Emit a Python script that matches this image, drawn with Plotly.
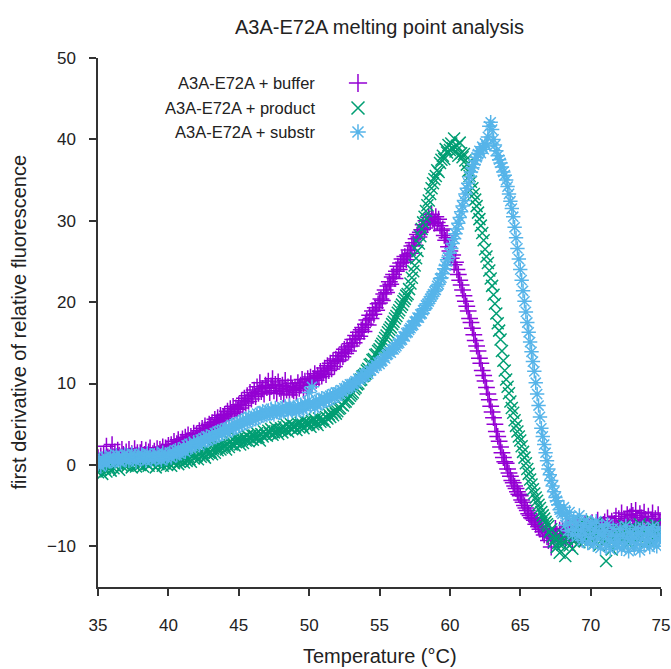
import numpy as np
import plotly.graph_objects as go

# Temperature axis: 35.0 .. 75.0 in 0.1 steps
temperature = np.round(np.arange(350, 751) / 10.0, 1)

series_names = ["A3A-E72A + buffer", "A3A-E72A + product", "A3A-E72A + substr"]
series_colors = ["#9400d3", "#009e73", "#56b4e9"]
series_symbols = ["cross-thin-open", "x-thin-open", "asterisk-open"]

buffer_vals = [
    0.9, 0.2, 1.1, 0.5, 1.4, 0.6, 2.3, 1.0, 0.8, 1.5,
    2.5, 1.0, 1.6, 0.9, 1.8, 1.2, 0.7, 1.9, 1.3, 1.0,
    1.6, 0.8, 1.9, 1.1, 1.4, 0.9, 2.0, 1.2, 1.5, 0.7,
    1.5, 1.9, 0.9, 1.3, 1.8, 1.1, 1.6, 2.1, 1.0, 1.4,
    1.7, 1.2, 2.0, 1.4, 1.9, 1.6, 2.2, 1.3, 2.1, 1.8,
    2.4, 1.7, 2.5, 2.0, 2.9, 2.2, 2.6, 3.1, 2.3, 2.8,
    3.2, 2.6, 3.4, 2.9, 3.7, 3.0, 3.5, 3.1, 3.9, 3.3,
    3.8, 3.4, 4.2, 3.7, 4.5, 4.0, 4.8, 4.1, 4.4, 5.0,
    4.7, 5.2, 4.6, 5.6, 5.0, 5.8, 5.3, 6.1, 5.5, 5.9,
    6.2, 5.7, 6.6, 6.0, 6.9, 6.3, 7.2, 6.5, 7.0, 6.8,
    7.4, 7.0, 7.9, 7.3, 8.2, 7.6, 8.5, 7.8, 8.9, 8.1,
    8.6, 9.2, 8.4, 9.6, 8.8, 10.1, 9.0, 9.4, 8.7, 9.8,
    9.5, 10.3, 8.9, 9.7, 10.6, 9.1, 9.9, 8.8, 10.2, 9.4,
    9.0, 9.8, 8.7, 10.4, 9.2, 9.6, 8.6, 10.0, 9.3, 9.1,
    9.5, 8.9, 10.1, 9.4, 9.8, 10.5, 9.2, 10.3, 9.7, 10.6,
    10.2, 10.8, 9.9, 10.6, 11.2, 10.4, 11.0, 10.7, 11.5, 10.9,
    11.3, 11.9, 11.1, 12.2, 11.6, 12.5, 11.8, 12.8, 12.1, 13.0,
    12.7, 13.4, 12.9, 13.8, 13.3, 14.2, 13.7, 14.5, 14.0, 14.9,
    14.6, 15.4, 15.0, 15.9, 15.5, 16.3, 15.8, 16.6, 16.9, 16.4,
    17.3, 17.8, 17.2, 18.4, 18.0, 18.9, 18.5, 19.3, 19.0, 19.8,
    19.9, 20.4, 20.2, 21.0, 21.5, 21.2, 22.0, 22.5, 22.2, 23.1,
    23.4, 22.9, 23.8, 24.4, 24.0, 24.8, 25.3, 24.9, 25.6, 25.2,
    25.8, 26.4, 26.0, 26.9, 27.3, 27.0, 27.8, 28.3, 28.0, 28.6,
    28.9, 29.5, 29.1, 30.0, 29.6, 30.4, 29.9, 30.8, 30.2, 29.7,
    30.5, 29.8, 30.2, 29.4, 28.8, 29.0, 28.2, 27.6, 27.9, 26.8,
    26.3, 25.4, 25.8, 24.6, 24.9, 24.0, 23.4, 22.7, 22.1, 21.5,
    20.8, 20.1, 19.5, 18.9, 18.0, 17.5, 16.8, 16.0, 15.3, 14.6,
    14.0, 13.1, 12.5, 11.6, 11.0, 10.3, 9.5, 8.7, 8.0, 7.2,
    6.5, 5.8, 5.0, 4.1, 3.5, 2.9, 2.2, 1.5, 0.9, 0.4,
    0.2, -0.5, -1.0, -1.4, -1.9, -2.2, -2.6, -2.9, -3.3, -3.6,
    -3.8, -4.3, -4.6, -5.0, -5.3, -5.6, -6.0, -6.2, -6.5, -6.6,
    -6.8, -7.3, -7.0, -7.6, -7.9, -7.5, -8.2, -8.6, -8.0, -8.8,
    -9.3, -8.2, -10.1, -8.7, -9.0, -7.8, -8.5, -9.4, -8.0, -8.6,
    -7.9, -8.8, -9.2, -8.1, -7.5, -8.9, -8.3, -9.5, -7.7, -8.4,
    -8.0, -7.4, -8.7, -9.0, -7.8, -8.5, -7.2, -8.9, -8.1, -7.6,
    -8.3, -7.1, -7.9, -8.6, -7.4, -6.8, -8.2, -7.7, -8.9, -7.3,
    -7.0, -7.8, -6.5, -8.3, -7.6, -6.9, -8.0, -7.2, -6.3, -7.9,
    -6.6, -7.4, -5.9, -7.8, -6.8, -7.2, -6.1, -7.5, -6.4, -5.7,
    -6.2, -7.3, -5.6, -6.9, -7.6, -6.0, -6.5, -7.1, -5.8, -6.7,
    -7.4, -6.3, -7.8, -6.8, -5.9, -7.2, -6.6, -7.5, -6.1, -7.0,
    -7.2,
]

product_vals = [
    -0.9, 0.1, -0.6, -1.1, 0.2, -0.4, -0.8, 0.0, -0.3, -0.7,
    0.3, -0.4, 0.5, -0.2, 0.1, -0.6, 0.4, -0.1, 0.6, 0.0,
    0.5, -0.1, 0.3, 0.7, -0.3, 0.2, 0.6, -0.2, 0.4, 0.1,
    0.0, 0.6, -0.2, 0.4, 0.8, 0.1, -0.1, 0.5, 0.2, 0.7,
    0.4, -0.3, 0.6, 0.1, 0.3, 0.8, -0.1, 0.2, 0.5, 0.0,
    0.3, 0.7, -0.1, 0.5, 0.2, 0.6, 0.9, 0.1, 0.4, 0.8,
    0.6, 0.3, 0.9, 0.5, 1.1, 0.7, 0.4, 1.2, 0.8, 1.0,
    1.1, 0.7, 1.4, 1.0, 1.6, 1.2, 0.9, 1.7, 1.3, 1.5,
    1.6, 1.3, 2.0, 1.5, 2.2, 1.8, 2.4, 1.9, 2.1, 2.6,
    2.3, 1.9, 2.6, 2.2, 2.9, 2.5, 3.1, 2.4, 2.8, 3.2,
    2.9, 2.5, 3.2, 2.7, 3.4, 3.0, 3.6, 2.9, 3.3, 3.7,
    3.1, 3.6, 3.3, 3.9, 3.4, 3.0, 3.8, 3.5, 4.1, 3.7,
    3.6, 4.2, 3.9, 4.4, 3.7, 4.0, 4.6, 4.1, 3.8, 4.3,
    4.5, 4.0, 4.7, 4.3, 4.9, 4.1, 4.6, 5.0, 4.4, 4.8,
    4.7, 4.3, 5.1, 4.6, 5.2, 4.8, 4.5, 5.3, 4.9, 5.2,
    5.1, 4.7, 5.4, 5.0, 5.6, 5.2, 4.9, 5.7, 5.3, 5.5,
    5.6, 5.3, 5.9, 5.7, 6.2, 5.9, 6.4, 6.1, 6.6, 6.3,
    6.6, 6.9, 7.0, 7.4, 7.3, 7.7, 7.8, 8.1, 8.2, 8.5,
    8.7, 8.9, 9.3, 9.5, 9.9, 10.0, 10.4, 10.5, 10.9, 11.0,
    11.2, 11.6, 11.8, 12.3, 12.4, 12.9, 13.0, 13.5, 13.6, 14.0,
    14.2, 14.6, 14.9, 15.2, 15.6, 15.9, 16.3, 16.6, 16.9, 17.3,
    17.6, 18.0, 18.3, 18.7, 19.0, 19.4, 19.7, 20.1, 20.4, 20.8,
    21.0, 21.6, 22.3, 23.0, 23.8, 24.5, 25.4, 26.3, 27.2, 28.1,
    29.0, 29.8, 30.5, 31.2, 31.9, 32.5, 33.3, 34.0, 34.6, 35.1,
    35.5, 36.2, 36.0, 37.1, 37.5, 38.0, 37.6, 38.8, 38.4, 39.3,
    38.7, 39.5, 38.9, 40.1, 38.5, 39.2, 38.0, 39.6, 38.3, 37.8,
    38.2, 37.4, 36.9, 36.1, 35.5, 34.8, 34.0, 33.3, 32.6, 31.8,
    31.0, 30.2, 29.4, 28.5, 27.6, 26.5, 25.6, 24.8, 23.9, 22.9,
    22.0, 20.9, 19.8, 18.6, 17.4, 16.5, 15.4, 14.0, 12.8, 11.6,
    10.5, 9.6, 8.8, 7.8, 7.0, 6.4, 5.5, 4.8, 4.1, 3.5,
    3.0, 2.3, 1.6, 0.9, 0.2, -0.5, -1.1, -1.8, -2.4, -3.0,
    -3.5, -4.0, -4.4, -4.9, -5.3, -5.8, -6.2, -6.6, -7.0, -7.3,
    -7.5, -8.2, -7.9, -8.8, -9.4, -9.0, -10.1, -9.6, -10.8, -9.2,
    -9.8, -8.6, -11.2, -9.1, -8.3, -9.9, -8.8, -10.3, -9.4, -8.1,
    -8.9, -7.6, -9.5, -8.2, -7.0, -8.8, -9.3, -8.0, -7.4, -8.6,
    -9.1, -7.8, -8.4, -9.6, -7.2, -8.8, -9.9, -8.1, -7.5, -9.0,
    -9.4, -11.8, -8.6, -9.9, -8.2, -10.4, -9.1, -8.7, -9.6, -8.0,
    -8.8, -7.9, -9.3, -8.4, -7.5, -9.0, -8.2, -9.7, -7.8, -8.6,
    -9.0, -7.7, -8.5, -9.4, -8.1, -7.3, -8.9, -8.3, -9.2, -7.9,
    -8.4, -9.1, -7.6, -8.8, -9.5, -8.0, -7.4, -8.7, -9.2, -8.3,
    -8.5,
]

substr_vals = [
    0.1, 0.6, -0.2, 0.8, 0.3, 1.0, 0.2, 0.7, 0.4, 1.1,
    0.5, 1.0, 0.4, 1.2, 0.6, 0.9, 0.3, 1.1, 0.7, 1.3,
    0.6, 1.2, 0.5, 1.0, 1.4, 0.7, 1.1, 0.4, 0.9, 1.3,
    0.7, 1.3, 0.8, 1.1, 0.5, 1.4, 0.9, 1.2, 0.6, 1.0,
    1.2, 0.7, 1.4, 0.9, 1.1, 0.6, 1.5, 1.0, 1.3, 0.8,
    1.1, 1.5, 0.9, 1.6, 1.3, 1.8, 1.2, 1.9, 1.4, 1.7,
    1.8, 2.2, 1.6, 2.4, 2.0, 2.6, 2.1, 2.3, 2.8, 2.4,
    2.6, 2.9, 2.4, 3.1, 2.8, 3.3, 2.9, 3.5, 3.0, 3.4,
    3.2, 3.7, 3.4, 3.9, 3.5, 4.1, 3.6, 4.2, 3.8, 4.3,
    4.1, 4.5, 4.0, 4.6, 4.3, 4.9, 4.4, 5.0, 4.6, 5.1,
    4.8, 5.3, 4.9, 5.5, 5.1, 5.7, 5.2, 5.9, 5.4, 5.8,
    5.5, 6.0, 5.6, 6.3, 5.8, 6.4, 6.0, 6.6, 6.1, 6.5,
    6.1, 6.7, 6.3, 6.9, 6.4, 6.2, 7.0, 6.5, 6.8, 6.4,
    6.5, 7.1, 6.6, 7.2, 6.8, 6.4, 7.3, 6.9, 6.7, 7.0,
    6.9, 6.5, 7.3, 6.8, 7.4, 7.0, 6.7, 7.6, 7.1, 7.8,
    8.9, 7.2, 9.6, 7.5, 7.0, 7.9, 7.3, 8.0, 7.6, 8.2,
    7.7, 8.1, 7.9, 8.4, 8.0, 8.5, 8.2, 8.7, 8.3, 8.9,
    8.5, 8.9, 8.7, 9.2, 9.0, 9.4, 9.3, 9.7, 9.5, 9.9,
    9.6, 9.9, 10.0, 10.3, 10.2, 10.6, 10.5, 10.9, 10.8, 11.1,
    10.9, 11.3, 11.2, 11.6, 11.6, 12.0, 11.9, 12.3, 12.2, 12.6,
    12.4, 12.7, 12.8, 13.2, 13.1, 13.5, 13.6, 13.9, 13.8, 14.2,
    14.2, 14.4, 14.6, 14.9, 15.0, 15.3, 15.4, 15.8, 15.8, 16.2,
    16.3, 16.6, 16.8, 17.1, 17.2, 17.6, 17.7, 18.1, 18.1, 18.5,
    18.6, 19.0, 19.2, 19.6, 19.8, 20.1, 20.4, 20.7, 21.0, 21.3,
    21.5, 22.0, 22.2, 22.9, 23.0, 23.5, 24.1, 24.5, 25.2, 25.5,
    26.0, 26.6, 27.2, 27.8, 28.4, 29.0, 29.7, 30.4, 31.1, 31.8,
    32.5, 33.3, 34.0, 34.6, 35.4, 36.0, 36.5, 36.9, 37.4, 37.8,
    38.2, 38.6, 38.3, 39.1, 38.8, 39.5, 39.2, 40.3, 41.6, 42.1,
    41.2, 40.0, 39.3, 38.6, 38.0, 37.5, 37.1, 36.6, 36.0, 35.6,
    35.0, 34.2, 33.3, 32.4, 31.5, 30.5, 29.2, 27.9, 26.6, 25.3,
    24.0, 22.7, 21.4, 20.1, 18.8, 17.5, 16.3, 15.1, 13.9, 12.7,
    11.5, 10.1, 8.7, 7.3, 5.9, 4.5, 3.5, 2.5, 1.5, 0.5,
    -0.5, -1.2, -1.9, -2.6, -3.3, -4.0, -4.4, -4.9, -5.5, -5.8,
    -6.0, -5.2, -7.4, -6.3, -8.1, -5.8, -7.0, -8.6, -6.6, -7.9,
    -7.1, -8.7, -6.2, -8.0, -9.3, -7.4, -8.5, -6.8, -9.6, -7.7,
    -8.9, -7.2, -9.8, -8.0, -6.9, -9.1, -8.4, -10.2, -7.5, -8.7,
    -8.1, -9.9, -7.3, -9.2, -10.4, -8.5, -7.8, -9.6, -8.8, -10.1,
    -9.4, -7.9, -10.3, -8.6, -9.8, -7.5, -9.0, -10.6, -8.3, -9.5,
    -8.8, -10.2, -7.8, -9.7, -8.4, -10.5, -9.1, -7.7, -9.9, -8.6,
    -9.3, -8.0, -10.1, -8.5, -7.6, -9.6, -8.9, -10.0, -7.9, -9.2,
    -8.7,
]

x_ticks = [35, 40, 45, 50, 55, 60, 65, 70, 75]
y_ticks = [-10, 0, 10, 20, 30, 40, 50]

all_series = [buffer_vals, product_vals, substr_vals]

FONT = "Liberation Sans, Arial, sans-serif"
fig = go.Figure()

for name, vals, color, sym in zip(series_names, all_series, series_colors, series_symbols):
    fig.add_trace(go.Scatter(
        x=temperature, y=vals, mode="markers", name=name, showlegend=False,
        marker=dict(symbol=sym, size=12, color=color, line=dict(color=color, width=1.5)),
    ))

# gnuplot-style key: text to the left of the symbol
key_x = 0.4618
key_text_x = 0.389
key_rows = [0.9527, 0.9055, 0.860]
for name, color, sym, ky in zip(series_names, series_colors, series_symbols, key_rows):
    fig.add_trace(go.Scatter(
        x=[key_x], y=[ky], xaxis="x2", yaxis="y2", mode="markers", showlegend=False,
        hoverinfo="skip",
        marker=dict(symbol=sym, size=13, color=color, line=dict(color=color, width=1.5)),
    ))
    fig.add_annotation(x=key_text_x, y=ky, xref="paper", yref="paper", text=name,
                       showarrow=False, xanchor="right", yanchor="middle",
                       font=dict(family=FONT, size=16.5, color="#222"))

axis_common = dict(showgrid=False, zeroline=False, showline=True, linecolor="#333",
                   linewidth=1.5, ticks="outside", ticklen=7, tickwidth=1.5,
                   tickcolor="#333", mirror=False, automargin=False,
                   tickfont=dict(family=FONT, size=17, color="#222"))

fig.update_layout(
    width=671, height=669,
    margin=dict(l=98, r=10, t=58, b=82),
    plot_bgcolor="white", paper_bgcolor="white",
    xaxis=dict(range=[35, 75], tickvals=x_ticks, ticklabelstandoff=15, **axis_common),
    yaxis=dict(range=[-15, 50], tickvals=y_ticks, ticklabelstandoff=10, **axis_common),
    xaxis2=dict(overlaying="x", range=[0, 1], visible=False, fixedrange=True),
    yaxis2=dict(overlaying="y", range=[0, 1], visible=False, fixedrange=True),
)

fig.add_annotation(x=0.5, y=1.0586, xref="paper", yref="paper",
                   text="A3A-E72A melting point analysis", showarrow=False,
                   xanchor="center", yanchor="middle",
                   font=dict(family=FONT, size=20, color="#222"))
fig.add_annotation(x=0.5, y=-0.1304, xref="paper", yref="paper",
                   text="Temperature (°C)", showarrow=False,
                   xanchor="center", yanchor="middle",
                   font=dict(family=FONT, size=20, color="#222"))
fig.add_annotation(x=-0.142, y=0.5, xref="paper", yref="paper",
                   text="first derivative of relative fluorescence", showarrow=False,
                   textangle=-90, xanchor="center", yanchor="middle",
                   font=dict(family=FONT, size=20, color="#222"))

fig.write_html("out.html")
